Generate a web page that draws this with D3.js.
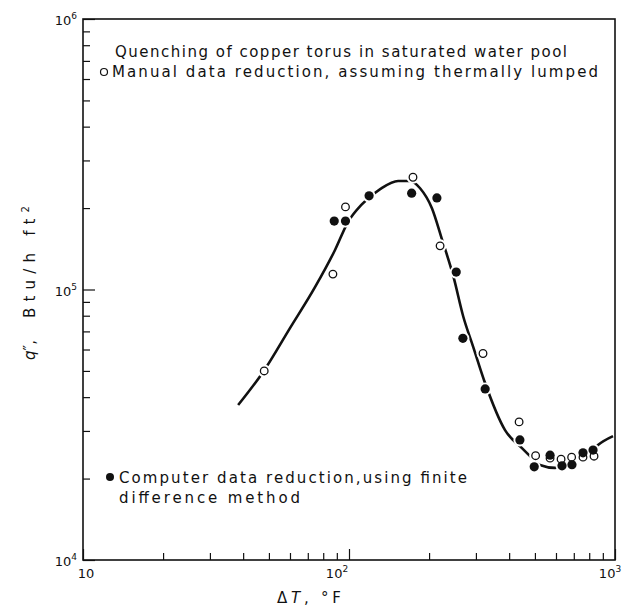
<!DOCTYPE html>
<html>
<head>
<meta charset="utf-8">
<script src="https://cdn.jsdelivr.net/npm/d3@7"></script>
<style>
  body { margin: 0; background: #fff; }
  svg text { font-family: "DejaVu Sans", sans-serif; fill: #111; }
</style>
</head>
<body>
<div id="chart"></div>
<script>
// manual data reduction (open circles)
const manualDT = [48, 87, 97, 174, 220, 319, 436, 503, 570, 627, 687, 758, 834];
const manualQ = [50000, 114000, 202000, 260000, 145000, 58000, 32400, 24300, 23800, 23600, 24000, 24000, 24200];

// computer data reduction (filled circles)
const computerDT = [88, 97, 119, 172, 214, 253, 268, 325, 439, 497, 570, 632, 689, 758, 827];
const computerQ = [179000, 179000, 222000, 227000, 218000, 116000, 66000, 42900, 27800, 22100, 24400, 22300, 22500, 24900, 25500];

// faired curve
const curveDT = [38.3, 47.9, 60, 74.5, 88.6, 99.1, 112, 131, 153, 170, 185, 205, 223, 247, 269, 293, 325, 386, 447, 488, 522, 595, 707, 805, 863, 983];
const curveQ = [37400, 50100, 72000, 102000, 140000, 177600, 207000, 235000, 251800, 251800, 236700, 199600, 154600, 111500, 79300, 61400, 45000, 30200, 25900, 23800, 22450, 21900, 23800, 24900, 26600, 28700];

const xMajor = [10, 100, 1000];
const xMajorExp = ["", "2", "3"];
const yMajor = [1e4, 1e5, 1e6];
const yMajorExp = ["4", "5", "6"];

const width = 623, height = 608;
const svg = d3.select("#chart").append("svg")
    .attr("width", width)
    .attr("height", height);

const x = d3.scaleLog().domain([10, 1000]).range([83, 615]);
const y = d3.scaleLog().domain([1e4, 1e6]).range([560, 19]);

// minor tick values
let xMinor = [], yMinor = [];
[10, 100].forEach(d => { for (let k = 2; k <= 9; k++) xMinor.push(d * k); });
[1e4, 1e5].forEach(d => { for (let k = 2; k <= 9; k++) yMinor.push(d * k); });

// axes (ticks inward)
svg.append("g")
    .attr("transform", "translate(0," + y(1e4) + ")")
    .call(d3.axisBottom(x).tickValues(xMinor).tickSize(-7).tickSizeOuter(0).tickFormat(""));
svg.append("g")
    .attr("transform", "translate(0," + y(1e4) + ")")
    .call(d3.axisBottom(x).tickValues(xMajor).tickSize(-11).tickSizeOuter(0).tickFormat(""));
svg.append("g")
    .attr("transform", "translate(" + x(10) + ",0)")
    .call(d3.axisLeft(y).tickValues(yMinor).tickSize(-7).tickSizeOuter(0).tickFormat(""));
svg.append("g")
    .attr("transform", "translate(" + x(10) + ",0)")
    .call(d3.axisLeft(y).tickValues(yMajor).tickSize(-12).tickSizeOuter(0).tickFormat(""));
svg.selectAll(".domain").remove();
svg.selectAll(".tick line").attr("stroke", "#111").attr("stroke-width", 1.2);

// frame
svg.append("rect")
    .attr("x", x(10)).attr("y", y(1e6))
    .attr("width", x(1000) - x(10)).attr("height", y(1e4) - y(1e6))
    .attr("fill", "none").attr("stroke", "#111").attr("stroke-width", 1.6);

// tick labels
const xLabelShift = [3, -12, -5];
xMajor.forEach((d, i) => {
    const t = svg.append("text")
        .attr("x", x(d) + xLabelShift[i])
        .attr("y", 578)
        .attr("text-anchor", "middle")
        .attr("font-size", 13)
        .text("10");
    if (xMajorExp[i]) {
        t.append("tspan").attr("dy", -6).attr("font-size", 9).text(xMajorExp[i]);
    }
});
yMajor.forEach((d, i) => {
    svg.append("text")
        .attr("x", 77)
        .attr("y", y(d) + 6)
        .attr("text-anchor", "end")
        .attr("font-size", 13)
        .text("10")
        .append("tspan").attr("dy", -6).attr("font-size", 9).text(yMajorExp[i]);
});

// axis titles
svg.append("text")
    .attr("x", 277).attr("y", 603)
    .attr("font-size", 15)
    .attr("textLength", 64).attr("lengthAdjust", "spacing")
    .html("\u0394<tspan font-style='italic'>T</tspan>,  \u00b0F");

svg.append("text")
    .attr("transform", "translate(35,360) rotate(-90)")
    .attr("font-size", 15)
    .html("<tspan font-style='italic'>q</tspan>\u2033,");
svg.append("text")
    .attr("transform", "translate(35,318) rotate(-90)")
    .attr("font-size", 15)
    .attr("textLength", 112).attr("lengthAdjust", "spacing")
    .html("Btu/h ft<tspan dy='-6' font-size='10'>2</tspan>");

// curve
const pts = curveDT.map((d, i) => [x(d), y(curveQ[i])]);
svg.append("path")
    .attr("d", d3.line().curve(d3.curveMonotoneX)(pts))
    .attr("fill", "none")
    .attr("stroke", "#111")
    .attr("stroke-width", 2.6);

// white halos cut the curve around the points
const allPts = manualDT.map((d, i) => [d, manualQ[i]]).concat(computerDT.map((d, i) => [d, computerQ[i]]));
svg.selectAll(".halo").data(allPts).enter().append("circle")
    .attr("class", "halo")
    .attr("cx", d => x(d[0])).attr("cy", d => y(d[1]))
    .attr("r", 6.5).attr("fill", "#fff");

svg.selectAll(".manual").data(manualDT).enter().append("circle")
    .attr("class", "manual")
    .attr("cx", d => x(d)).attr("cy", (d, i) => y(manualQ[i]))
    .attr("r", 3.8).attr("fill", "#fff").attr("stroke", "#111").attr("stroke-width", 1.3);

svg.selectAll(".computer").data(computerDT).enter().append("circle")
    .attr("class", "computer")
    .attr("cx", d => x(d)).attr("cy", (d, i) => y(computerQ[i]))
    .attr("r", 4.6).attr("fill", "#111");

// annotations
svg.append("text").attr("x", 115).attr("y", 57).attr("font-size", 15)
    .attr("textLength", 452).attr("lengthAdjust", "spacing")
    .text("Quenching of copper torus in saturated water pool");
svg.append("circle").attr("cx", 104).attr("cy", 72).attr("r", 3.5)
    .attr("fill", "#fff").attr("stroke", "#111").attr("stroke-width", 1.2);
svg.append("text").attr("x", 112).attr("y", 77).attr("font-size", 15)
    .attr("textLength", 486).attr("lengthAdjust", "spacing")
    .text("Manual data reduction, assuming thermally lumped");

svg.append("circle").attr("cx", 110).attr("cy", 477).attr("r", 4)
    .attr("fill", "#111");
svg.append("text").attr("x", 119).attr("y", 483).attr("font-size", 15)
    .attr("textLength", 348).attr("lengthAdjust", "spacing")
    .text("Computer data reduction,using finite");
svg.append("text").attr("x", 119).attr("y", 503).attr("font-size", 15)
    .attr("textLength", 181).attr("lengthAdjust", "spacing")
    .text("difference method");
</script>
</body>
</html>
